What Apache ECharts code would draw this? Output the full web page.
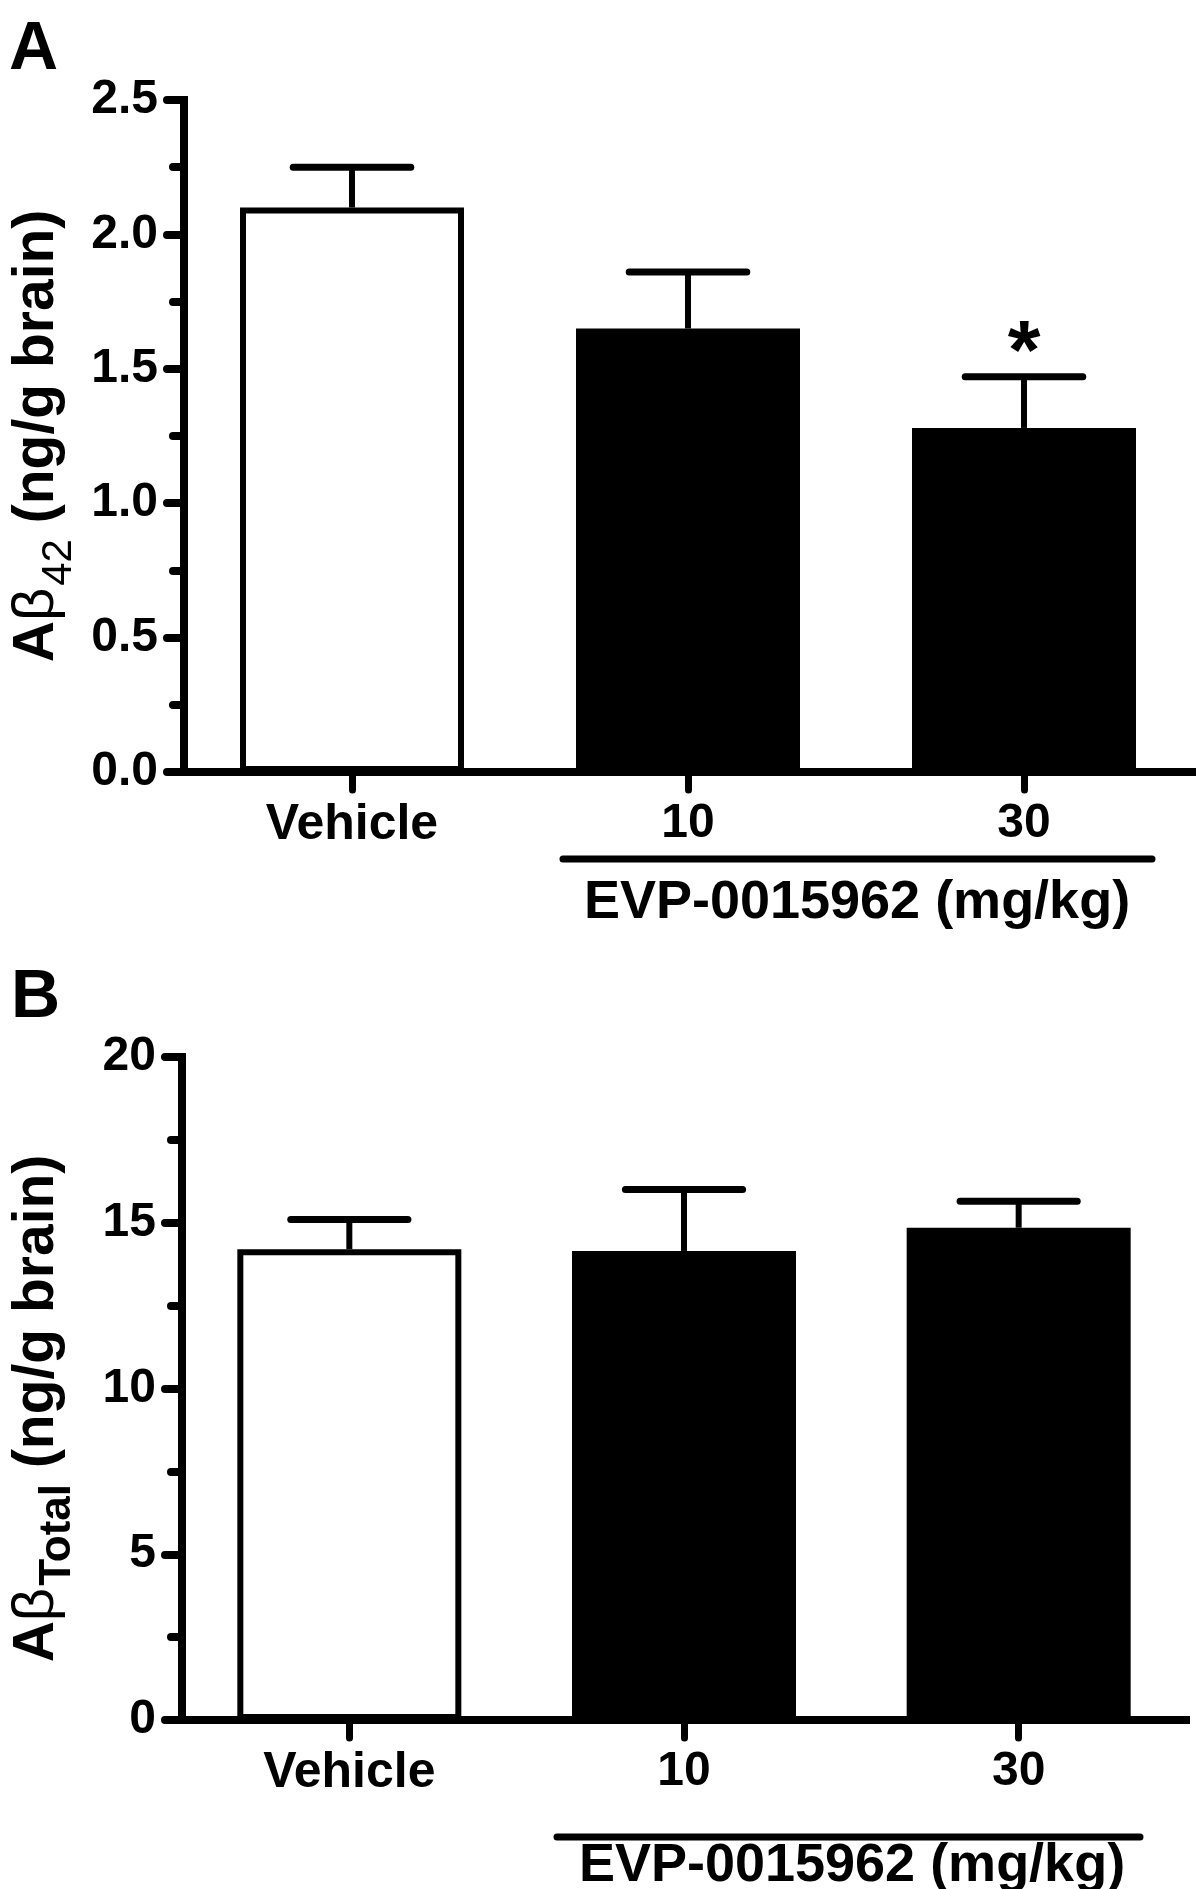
<!DOCTYPE html>
<html>
<head>
<meta charset="utf-8">
<script src="https://cdn.jsdelivr.net/npm/echarts@6/dist/echarts.min.js"></script>
<style>
  html, body { margin: 0; padding: 0; background: #fff; }
  #chart { width: 1200px; height: 1889px; }
</style>
</head>
<body>
<div id="chart"></div>
<script>
// ---- data ----
const categories = ['Vehicle', '10', '30'];
const abeta42Mean = [2.10, 1.65, 1.28];
const abeta42Sem = [0.15, 0.21, 0.19];
const abeta42Sig = ['', '', '*'];
const abetaTotalMean = [14.2, 14.15, 14.85];
const abetaTotalSem = [0.9, 1.85, 0.8];
const abetaTotalSig = ['', '', ''];
const barColors = ['#ffffff', '#000000', '#000000'];
const doseLabel = 'EVP-0015962 (mg/kg)';

const FONT = "'Liberation Sans', Arial, Helvetica, sans-serif";
const NARROW = "'Liberation Sans Narrow', 'Arial Narrow', 'Liberation Sans', Arial, sans-serif";

const chart = echarts.init(document.getElementById('chart'), null, { renderer: 'canvas' });

function xAxisCfg(gi) {
  return {
    gridIndex: gi, type: 'category', data: categories,
    axisLine: { show: true, lineStyle: { color: '#000', width: 8, cap: 'square' } },
    axisTick: { show: true, alignWithLabel: true, length: 18, lineStyle: { color: '#000', width: 7, cap: 'round' } },
    axisLabel: {
      margin: 28, color: '#000',
      formatter: v => (isNaN(Number(v)) ? '{w|' + v + '}' : '{n|' + v + '}'),
      rich: {
        w: { fontSize: 50, fontWeight: 'bold', fontFamily: FONT, color: '#000' },
        n: { fontSize: 48, fontWeight: 'bold', fontFamily: NARROW, color: '#000' }
      }
    },
    splitLine: { show: false }
  };
}

function yAxisCfg(gi, max, interval, fmt, name, nameRich, namePad) {
  return {
    gridIndex: gi, type: 'value', min: 0, max: max, interval: interval,
    axisLine: { show: true, lineStyle: { color: '#000', width: 8, cap: 'square' } },
    axisTick: { show: true, length: 17, lineStyle: { color: '#000', width: 8, cap: 'round' } },
    minorTick: { show: true, splitNumber: 2, length: 11, lineStyle: { color: '#000', width: 8, cap: 'round' } },
    splitLine: { show: false },
    minorSplitLine: { show: false },
    axisLabel: { margin: 26, color: '#000', fontSize: 48, fontWeight: 'bold', fontFamily: NARROW, formatter: fmt },
    name: name, nameLocation: 'middle', nameRotate: 90, nameGap: 116,
    nameTextStyle: { rich: nameRich, padding: namePad }
  };
}

const nameRichBase = {
  a: { fontSize: 57, fontWeight: 'bold', fontFamily: FONT, color: '#000' },
  b: { fontSize: 58, fontWeight: 'normal', fontFamily: FONT, color: '#000' },
  s: { fontSize: 42, fontWeight: 'normal', fontFamily: FONT, color: '#000', verticalAlign: 'bottom', padding: [0, 0, -14, 2] },
  t: { fontSize: 44, fontWeight: 'bold', fontFamily: FONT, color: '#000', verticalAlign: 'bottom', padding: [0, 0, -14, 2] }
};

function errSeries(gi, means, sems, sigs) {
  return {
    type: 'custom', xAxisIndex: gi, yAxisIndex: gi, z: 5,
    data: categories.map((c, i) => [i, means[i], sems[i]]),
    renderItem: function (params, api) {
      const i = api.value(0), m = api.value(1), e = api.value(2);
      const base = api.coord([i, m]);
      const top = api.coord([i, m + e]);
      const hw = api.size([1, 0])[0] * 0.175;
      const children = [
        { type: 'line', shape: { x1: base[0], y1: base[1], x2: top[0], y2: top[1] }, style: { stroke: '#000', lineWidth: 6 } },
        { type: 'line', shape: { x1: top[0] - hw, y1: top[1], x2: top[0] + hw, y2: top[1] }, style: { stroke: '#000', lineWidth: 7, lineCap: 'round' } }
      ];
      const s = sigs[params.dataIndex];
      if (s) {
        children.push({ type: 'text', x: top[0], y: top[1] - 21,
          style: { text: s, fill: '#000', font: 'bold 84px ' + FONT, align: 'center', verticalAlign: 'middle' } });
      }
      return { type: 'group', children: children };
    }
  };
}

function barSeries(gi, means) {
  return {
    type: 'bar', xAxisIndex: gi, yAxisIndex: gi, barWidth: 224,
    itemStyle: { borderColor: '#000', borderWidth: 6 },
    data: means.map((v, i) => ({ value: v, itemStyle: { color: barColors[i] } }))
  };
}

const option = {
  animation: false,
  backgroundColor: '#ffffff',
  grid: [
    { left: 184, top: 100, width: 1008, height: 672 },
    { left: 180, top: 1057, width: 1006, height: 663 }
  ],
  xAxis: [xAxisCfg(0), xAxisCfg(1)],
  yAxis: [
    yAxisCfg(0, 2.5, 0.5, v => v.toFixed(1), '{a|A}{b|β}{s|42}{a| (ng/g brain)}', nameRichBase, [0, 0, 0, 0]),
    yAxisCfg(1, 20, 5, v => String(v), '{a|A}{b|β}{t|Total}{a| (ng/g brain)}', nameRichBase, [0, 40, 0, 0])
  ],
  series: [
    barSeries(0, abeta42Mean),
    errSeries(0, abeta42Mean, abeta42Sem, abeta42Sig),
    barSeries(1, abetaTotalMean),
    errSeries(1, abetaTotalMean, abetaTotalSem, abetaTotalSig)
  ],
  graphic: [
    { type: 'text', x: 9, y: 16, style: { text: 'A', fill: '#000', font: 'bold 68px ' + FONT, align: 'left', verticalAlign: 'top' } },
    { type: 'text', x: 11, y: 964, style: { text: 'B', fill: '#000', font: 'bold 68px ' + FONT, align: 'left', verticalAlign: 'top' } },
    { type: 'line', shape: { x1: 563, y1: 859, x2: 1152, y2: 859 }, style: { stroke: '#000', lineWidth: 7, lineCap: 'round' } },
    { type: 'text', x: 857, y: 876, style: { text: doseLabel, fill: '#000', font: 'bold 54px ' + FONT, align: 'center', verticalAlign: 'top' } },
    { type: 'line', shape: { x1: 557, y1: 1837, x2: 1140, y2: 1837 }, style: { stroke: '#000', lineWidth: 7, lineCap: 'round' } },
    { type: 'text', x: 852, y: 1839, style: { text: doseLabel, fill: '#000', font: 'bold 54px ' + FONT, align: 'center', verticalAlign: 'top' } }
  ]
};

chart.setOption(option);
</script>
</body>
</html>
